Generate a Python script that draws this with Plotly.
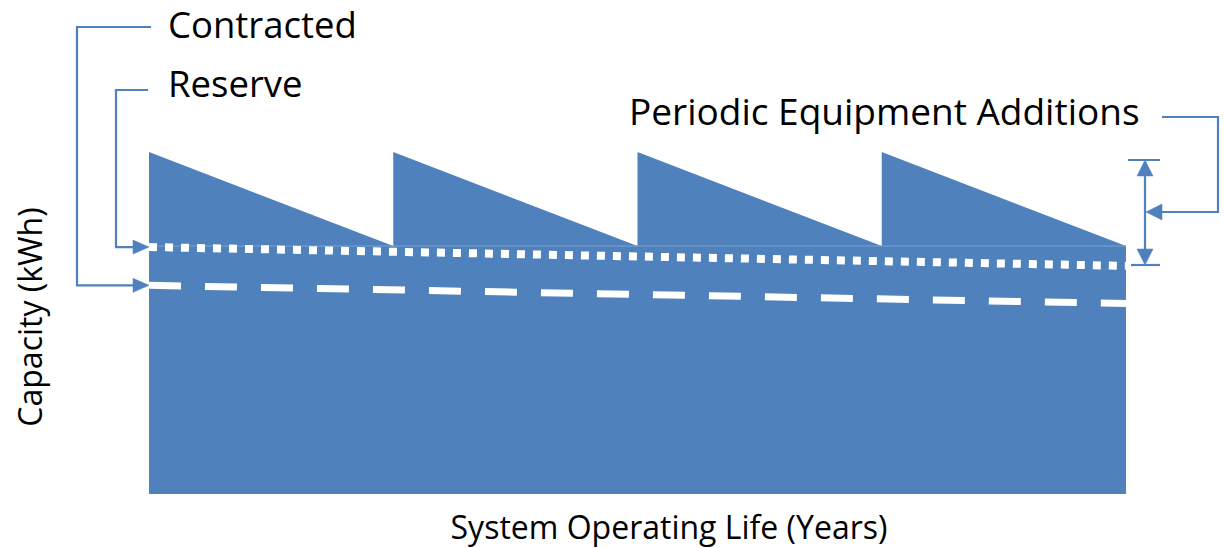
import plotly.graph_objects as go

# ---- data ----
years_saw = [0, 5, 5, 10, 10, 15, 15, 20]
capacity_saw = [100, 72.5, 100, 72.5, 100, 72.5, 100, 72.5]
years_line = [0, 20]
reserve = [72.2, 66.7]
contracted = [61.0, 55.7]
trough = [72.5, 72.5]

BLUE = "#4F81BD"
FONT = "Open Sans"

# plot-area geometry (pixels) and axis ranges
W_FIG, H_FIG = 1224, 548
L, R, T, B = 149, 1189, 140, 494
XMAX, YMAX = 21.29, 103.5


def px2x(px):
    return (px - L) / (R - L)


def py2y(py):
    return (B - py) / (B - T)


def vx(x):  # data x -> pixel
    return L + x / XMAX * (R - L)


def vy(v):  # data y -> pixel
    return B - v / YMAX * (B - T)


fig = go.Figure()
fig.add_trace(go.Scatter(x=years_saw, y=capacity_saw, mode="lines", fill="tozeroy",
                         fillcolor=BLUE, line=dict(width=0, color=BLUE), hoverinfo="skip",
                         showlegend=False))
fig.add_trace(go.Scatter(x=years_line, y=trough, mode="lines",
                         line=dict(width=1, color="#7FA2CF"), hoverinfo="skip", showlegend=False))
fig.add_trace(go.Scatter(x=years_line, y=reserve, mode="lines",
                         line=dict(width=8, color="white", dash="dot"), hoverinfo="skip",
                         showlegend=False))
fig.add_trace(go.Scatter(x=years_line, y=contracted, mode="lines",
                         line=dict(width=7, color="white", dash="32px,24px"), hoverinfo="skip",
                         showlegend=False))

shapes = []


def path_shape(pts, closed=False, fill=None, width=2.2):
    d = "M " + " L ".join(f"{px2x(a):.5f},{py2y(b):.5f}" for a, b in pts)
    if closed:
        d += " Z"
    s = dict(type="path", path=d, xref="paper", yref="paper",
             line=dict(color=BLUE, width=width if not closed else 0.5))
    if fill:
        s["fillcolor"] = fill
    shapes.append(s)


def arrow_right(tx, ty):
    path_shape([(tx, ty), (tx - 16, ty - 7), (tx - 16, ty + 7)], closed=True, fill=BLUE)


def arrow_left(tx, ty):
    path_shape([(tx, ty), (tx + 16, ty - 8), (tx + 16, ty + 8)], closed=True, fill=BLUE)


def arrow_up(tx, ty):
    path_shape([(tx, ty), (tx - 8, ty + 16), (tx + 8, ty + 16)], closed=True, fill=BLUE)


def arrow_down(tx, ty):
    path_shape([(tx, ty), (tx - 8, ty - 16), (tx + 8, ty - 16)], closed=True, fill=BLUE)


# Contracted leader
cy = vy(contracted[0])
x0 = vx(years_line[0])
path_shape([(151, 27), (77, 27), (77, cy), (x0 - 14, cy)])
arrow_right(x0, cy)
# Reserve leader
ry = vy(reserve[0])
path_shape([(148, 90), (116, 90), (116, ry), (x0 - 14, ry)])
arrow_right(x0, ry)
# Periodic equipment additions leader
path_shape([(1162, 117), (1218, 117), (1218, 212), (1160, 212)])
arrow_left(1146, 212)
# double-headed dimension arrow
path_shape([(1145, 174), (1145, 251)])
path_shape([(1128, 160), (1160, 160)])
path_shape([(1131, 265), (1160, 265)])
arrow_up(1145, 160)
arrow_down(1145, 265)

annotations = [
    dict(text="Contracted", x=px2x(167), y=py2y(23.5), xanchor="left", yanchor="middle",
         size=36.5),
    dict(text="Reserve", x=px2x(167), y=py2y(83), xanchor="left", yanchor="middle", size=36.5),
    dict(text="Periodic Equipment Additions", x=px2x(628), y=py2y(110), xanchor="left",
         yanchor="middle", size=37),
]
for a in annotations:
    size = a.pop("size")
    a.update(xref="paper", yref="paper", showarrow=False, borderpad=0,
             font=dict(family=FONT, size=size, color="black"))

fig.update_layout(
    width=W_FIG, height=H_FIG,
    margin=dict(l=L, r=W_FIG - R, t=T, b=H_FIG - B, autoexpand=False),
    paper_bgcolor="white", plot_bgcolor="white",
    font=dict(family=FONT, color="black"),
    xaxis=dict(range=[0, XMAX], showgrid=False, zeroline=False, showticklabels=False,
               ticks="", showline=False, fixedrange=True,
               title=dict(text="System Operating Life (Years)", font=dict(size=32, family=FONT),
                          standoff=22)),
    yaxis=dict(range=[0, YMAX], showgrid=False, zeroline=False, showticklabels=False,
               ticks="", showline=False, fixedrange=True,
               title=dict(text="Capacity (kWh)", font=dict(size=32, family=FONT),
                          standoff=95)),
    shapes=shapes,
    annotations=annotations,
    hovermode=False,
)

fig.write_html("out.html", config={"displayModeBar": False},
               post_script="document.body.style.margin='0';document.body.style.overflow='hidden';")
